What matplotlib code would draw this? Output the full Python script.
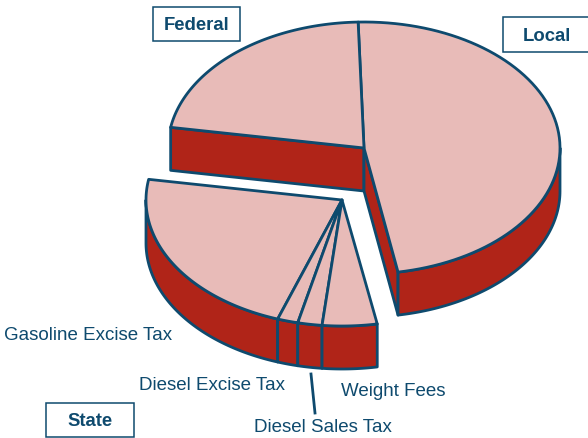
import numpy as np
import matplotlib
matplotlib.use("Agg")
import matplotlib.pyplot as plt
from matplotlib.patches import Polygon, Rectangle

plt.rcParams['font.family'] = ['Liberation Sans', 'DejaVu Sans']

# shares in percent
main_names = ["Local", "Federal"]
main_shares = [47.7, 21.9]
state_names = ["Gasoline Excise Tax", "Diesel Excise Tax", "Diesel Sales Tax", "Weight Fees"]
state_shares = [22.3, 1.7, 2.0, 4.5]

LINE = "#0e4a6e"
TOP = "#e8bbb8"
SIDE = "#b02418"
RX, RY, DEPTH = 196, 126, 43
MAIN_C = (364, 148)
STATE_C = (342, 200)
START = -80.0  # angle where Local begins, going counter clockwise


def rim(c, t0, t1, dy=0):
    t = np.radians(np.linspace(t0, t1, 80))
    return np.column_stack([c[0] + RX * np.cos(t), c[1] - RY * np.sin(t) + dy])


def poly(ax, pts, color, lw=2.0):
    ax.add_patch(Polygon(pts, closed=True, fc=color, ec=LINE, lw=lw, joinstyle="round"))


def top(ax, c, t0, t1):
    poly(ax, np.vstack([[c], rim(c, t0, t1)]), TOP)


def outer_side(ax, c, t0, t1):
    # only the front half of the rim can be seen
    t0, t1 = max(t0, 180), min(t1, 360)
    if t1 > t0:
        poly(ax, np.vstack([rim(c, t0, t1), rim(c, t1, t0, DEPTH)]), SIDE)


def cut_side(ax, c, t):
    p = rim(c, t, t)[0]
    poly(ax, [c, p, (p[0], p[1] + DEPTH), (c[0], c[1] + DEPTH)], SIDE)


fig = plt.figure(figsize=(5.88, 4.38), dpi=100)
ax = fig.add_axes([0, 0, 1, 1])
ax.set_xlim(0, 588)
ax.set_ylim(438, 0)
ax.axis("off")

# main block: Local then Federal
local_end = START + main_shares[0] * 3.6
fed_end = local_end + main_shares[1] * 3.6
cut_side(ax, MAIN_C, fed_end)
cut_side(ax, MAIN_C, START)
outer_side(ax, MAIN_C, 360 + START, 360)
top(ax, MAIN_C, START, local_end)
top(ax, MAIN_C, local_end, fed_end)

# state block is pulled out, slices follow on from Federal
edges = fed_end + np.cumsum([0] + state_shares) * 3.6
for a, b in zip(edges[:-1], edges[1:]):
    outer_side(ax, STATE_C, a, b)
for a, b in zip(edges[:-1], edges[1:]):
    top(ax, STATE_C, a, b)

# text
label_pos = [(4, 336), (139, 386), (254, 428), (341, 391)]
for name, (x, y) in zip(state_names, label_pos):
    ax.text(x, y, name, color=LINE, fontsize=13.5, ha="left", va="center")
ax.plot([311, 315], [374, 413], color=LINE, lw=2.0)

boxes = [("Federal", 153, 7, 87, 34), ("Local", 503, 17, 90, 35), ("State", 46, 403, 88, 34)]
for name, x, y, w, h in boxes:
    ax.add_patch(Rectangle((x, y), w, h, fc="white", ec=LINE, lw=1.1))
    ax.text(x + w / 2 - (1 if name == "Local" else 0), y + h / 2 + 2, name, color=LINE,
            fontsize=13.3, fontweight="bold", ha="center", va="center")

fig.savefig("out.png", dpi=100)
